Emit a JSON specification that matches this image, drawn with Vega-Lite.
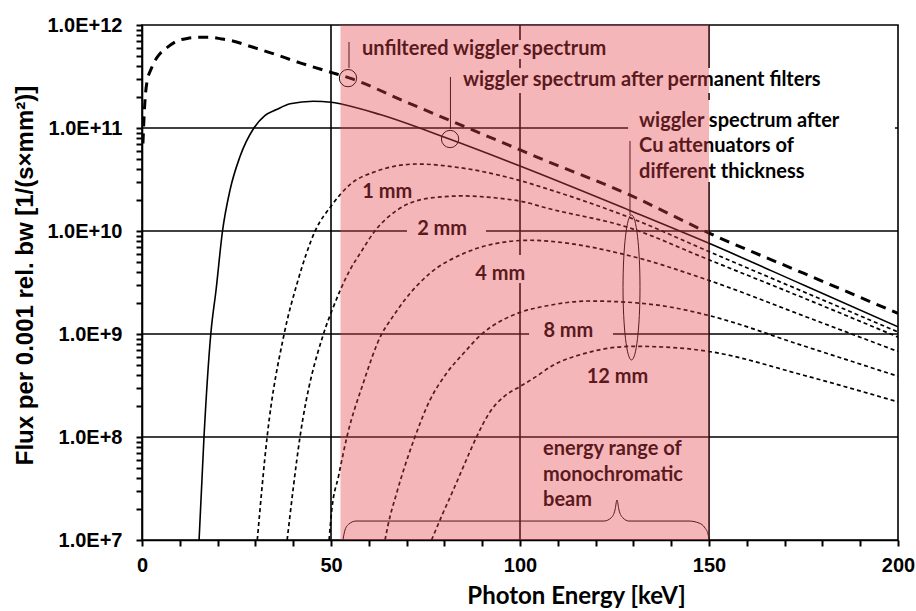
{
  "$schema": "https://vega.github.io/schema/vega-lite/v6.json",
  "width": 756,
  "height": 515,
  "autosize": {"type": "none"},
  "padding": {"left": 142, "top": 25, "right": 18, "bottom": 71},
  "background": "white",
  "config": {
    "view": {"stroke": "black", "strokeWidth": 1.6}
  },
  "datasets": {
    "vgrid": [{"keV": 50}, {"keV": 100}, {"keV": 150}],
    "hgrid": [{"flux": 1e8}, {"flux": 1e9}, {"flux": 1e10}, {"flux": 1e11}],
    "curves": [
      {"series": "unfiltered", "keV": 0.25, "flux": 7.08e10},
      {"series": "unfiltered", "keV": 0.6, "flux": 1.41e11},
      {"series": "unfiltered", "keV": 1.2, "flux": 2.63e11},
      {"series": "unfiltered", "keV": 2.6, "flux": 3.89e11},
      {"series": "unfiltered", "keV": 4.5, "flux": 5.13e11},
      {"series": "unfiltered", "keV": 6.6, "flux": 6.03e11},
      {"series": "unfiltered", "keV": 9, "flux": 6.92e11},
      {"series": "unfiltered", "keV": 12, "flux": 7.41e11},
      {"series": "unfiltered", "keV": 15, "flux": 7.59e11},
      {"series": "unfiltered", "keV": 18, "flux": 7.59e11},
      {"series": "unfiltered", "keV": 21, "flux": 7.33e11},
      {"series": "unfiltered", "keV": 24, "flux": 7.0e11},
      {"series": "unfiltered", "keV": 28, "flux": 6.31e11},
      {"series": "unfiltered", "keV": 34, "flux": 5.37e11},
      {"series": "unfiltered", "keV": 42, "flux": 4.27e11},
      {"series": "unfiltered", "keV": 50, "flux": 3.47e11},
      {"series": "unfiltered", "keV": 55, "flux": 3.05e11},
      {"series": "unfiltered", "keV": 70, "flux": 1.78e11},
      {"series": "unfiltered", "keV": 94, "flux": 7.59e10},
      {"series": "unfiltered", "keV": 105, "flux": 5.13e10},
      {"series": "unfiltered", "keV": 129, "flux": 2.24e10},
      {"series": "unfiltered", "keV": 150, "flux": 9.55e9},
      {"series": "unfiltered", "keV": 175, "flux": 3.89e9},
      {"series": "unfiltered", "keV": 200, "flux": 1.585e9},

      {"series": "filters", "keV": 15.1, "flux": 1e7},
      {"series": "filters", "keV": 16.4, "flux": 1e8},
      {"series": "filters", "keV": 18.2, "flux": 1e9},
      {"series": "filters", "keV": 19.6, "flux": 2.69e9},
      {"series": "filters", "keV": 21.3, "flux": 1e10},
      {"series": "filters", "keV": 23.3, "flux": 2.51e10},
      {"series": "filters", "keV": 25.9, "flux": 5.25e10},
      {"series": "filters", "keV": 29.6, "flux": 1e11},
      {"series": "filters", "keV": 32.5, "flux": 1.32e11},
      {"series": "filters", "keV": 35.6, "flux": 1.51e11},
      {"series": "filters", "keV": 39.2, "flux": 1.72e11},
      {"series": "filters", "keV": 45.3, "flux": 1.82e11},
      {"series": "filters", "keV": 50, "flux": 1.78e11},
      {"series": "filters", "keV": 53, "flux": 1.70e11},
      {"series": "filters", "keV": 63, "flux": 1.35e11},
      {"series": "filters", "keV": 81.5, "flux": 7.76e10},
      {"series": "filters", "keV": 100, "flux": 4.27e10},
      {"series": "filters", "keV": 129, "flux": 1.585e10},
      {"series": "filters", "keV": 150, "flux": 7.59e9},
      {"series": "filters", "keV": 175, "flux": 2.99e9},
      {"series": "filters", "keV": 200, "flux": 1.175e9},

      {"series": "1 mm", "keV": 30.5, "flux": 1e7},
      {"series": "1 mm", "keV": 33.1, "flux": 1e8},
      {"series": "1 mm", "keV": 37.6, "flux": 1e9},
      {"series": "1 mm", "keV": 41.1, "flux": 3.16e9},
      {"series": "1 mm", "keV": 45.8, "flux": 1e10},
      {"series": "1 mm", "keV": 50.2, "flux": 1.78e10},
      {"series": "1 mm", "keV": 55, "flux": 2.82e10},
      {"series": "1 mm", "keV": 62, "flux": 3.80e10},
      {"series": "1 mm", "keV": 72.7, "flux": 4.47e10},
      {"series": "1 mm", "keV": 85, "flux": 4.07e10},
      {"series": "1 mm", "keV": 99, "flux": 3.16e10},
      {"series": "1 mm", "keV": 108, "flux": 2.51e10},
      {"series": "1 mm", "keV": 129, "flux": 1.35e10},
      {"series": "1 mm", "keV": 150, "flux": 6.31e9},
      {"series": "1 mm", "keV": 175, "flux": 2.57e9},
      {"series": "1 mm", "keV": 200, "flux": 1.047e9},

      {"series": "2 mm", "keV": 38.4, "flux": 1e7},
      {"series": "2 mm", "keV": 41.8, "flux": 1e8},
      {"series": "2 mm", "keV": 48, "flux": 1e9},
      {"series": "2 mm", "keV": 50.5, "flux": 1.78e9},
      {"series": "2 mm", "keV": 52.5, "flux": 2.69e9},
      {"series": "2 mm", "keV": 55, "flux": 4.17e9},
      {"series": "2 mm", "keV": 58, "flux": 6.31e9},
      {"series": "2 mm", "keV": 61.6, "flux": 1e10},
      {"series": "2 mm", "keV": 67.4, "flux": 1.585e10},
      {"series": "2 mm", "keV": 76.2, "flux": 2.09e10},
      {"series": "2 mm", "keV": 85, "flux": 2.19e10},
      {"series": "2 mm", "keV": 93.8, "flux": 2.09e10},
      {"series": "2 mm", "keV": 102.6, "flux": 1.86e10},
      {"series": "2 mm", "keV": 105.3, "flux": 1.74e10},
      {"series": "2 mm", "keV": 129, "flux": 1.072e10},
      {"series": "2 mm", "keV": 150, "flux": 5.25e9},
      {"series": "2 mm", "keV": 175, "flux": 2.24e9},
      {"series": "2 mm", "keV": 200, "flux": 9.33e8},

      {"series": "4 mm", "keV": 49.5, "flux": 1e7},
      {"series": "4 mm", "keV": 50.2, "flux": 1.95e7},
      {"series": "4 mm", "keV": 52, "flux": 4.17e7},
      {"series": "4 mm", "keV": 54.2, "flux": 1e8},
      {"series": "4 mm", "keV": 58.5, "flux": 3.31e8},
      {"series": "4 mm", "keV": 63.4, "flux": 1e9},
      {"series": "4 mm", "keV": 66, "flux": 1.41e9},
      {"series": "4 mm", "keV": 69.5, "flux": 2.14e9},
      {"series": "4 mm", "keV": 76.2, "flux": 3.89e9},
      {"series": "4 mm", "keV": 85, "flux": 6.03e9},
      {"series": "4 mm", "keV": 93.8, "flux": 7.59e9},
      {"series": "4 mm", "keV": 102.6, "flux": 8.13e9},
      {"series": "4 mm", "keV": 108, "flux": 7.94e9},
      {"series": "4 mm", "keV": 129, "flux": 5.75e9},
      {"series": "4 mm", "keV": 150, "flux": 3.31e9},
      {"series": "4 mm", "keV": 175, "flux": 1.5e9},
      {"series": "4 mm", "keV": 200, "flux": 6.76e8},

      {"series": "8 mm", "keV": 64.3, "flux": 1e7},
      {"series": "8 mm", "keV": 65, "flux": 1.35e7},
      {"series": "8 mm", "keV": 67.4, "flux": 2.88e7},
      {"series": "8 mm", "keV": 72.2, "flux": 1e8},
      {"series": "8 mm", "keV": 76.2, "flux": 2.29e8},
      {"series": "8 mm", "keV": 80.6, "flux": 4.17e8},
      {"series": "8 mm", "keV": 85, "flux": 6.46e8},
      {"series": "8 mm", "keV": 89.9, "flux": 1e9},
      {"series": "8 mm", "keV": 95.6, "flux": 1.38e9},
      {"series": "8 mm", "keV": 100, "flux": 1.62e9},
      {"series": "8 mm", "keV": 108, "flux": 1.905e9},
      {"series": "8 mm", "keV": 118, "flux": 2.09e9},
      {"series": "8 mm", "keV": 128, "flux": 2.04e9},
      {"series": "8 mm", "keV": 140, "flux": 1.82e9},
      {"series": "8 mm", "keV": 150, "flux": 1.51e9},
      {"series": "8 mm", "keV": 175, "flux": 7.67e8},
      {"series": "8 mm", "keV": 200, "flux": 3.89e8},

      {"series": "12 mm", "keV": 76.6, "flux": 1e7},
      {"series": "12 mm", "keV": 79.5, "flux": 1.78e7},
      {"series": "12 mm", "keV": 82.4, "flux": 3.09e7},
      {"series": "12 mm", "keV": 85, "flux": 5.13e7},
      {"series": "12 mm", "keV": 88.5, "flux": 1e8},
      {"series": "12 mm", "keV": 92, "flux": 1.74e8},
      {"series": "12 mm", "keV": 96, "flux": 2.51e8},
      {"series": "12 mm", "keV": 100, "flux": 3.09e8},
      {"series": "12 mm", "keV": 104.4, "flux": 3.89e8},
      {"series": "12 mm", "keV": 108, "flux": 4.79e8},
      {"series": "12 mm", "keV": 118, "flux": 6.61e8},
      {"series": "12 mm", "keV": 130, "flux": 7.59e8},
      {"series": "12 mm", "keV": 140, "flux": 7.41e8},
      {"series": "12 mm", "keV": 150, "flux": 6.76e8},
      {"series": "12 mm", "keV": 175, "flux": 3.98e8},
      {"series": "12 mm", "keV": 200, "flux": 2.19e8}
    ],
    "boxes": [
      {"x1": 57.5, "x2": 125, "y1": 7.14e11, "y2": 4.68e11},
      {"x1": 84.1, "x2": 196, "y1": 3.83e11, "y2": 2.19e11},
      {"x1": 128.6, "x2": 199.2, "y1": 1.87e11, "y2": 2.99e10},
      {"x1": 70.1, "x2": 91.0, "y1": 1.28e10, "y2": 8.18e9},
      {"x1": 93.4, "x2": 106.6, "y1": 5.85e9, "y2": 3.13e9},
      {"x1": 102.4, "x2": 124.6, "y1": 1.31e9, "y2": 8.75e8}
    ],
    "notes": [
      {"text": "unfiltered wiggler spectrum", "keV": 58.2, "flux": 5.89e11},
      {"text": "wiggler spectrum after permanent filters", "keV": 84.9, "flux": 2.92e11},
      {"text": "wiggler spectrum after", "keV": 131.5, "flux": 1.17e11},
      {"text": "Cu attenuators of", "keV": 131.5, "flux": 6.68e10},
      {"text": "different thickness", "keV": 131.5, "flux": 3.74e10},
      {"text": "energy range of", "keV": 106.1, "flux": 7.60e7},
      {"text": "monochromatic", "keV": 106.1, "flux": 4.28e7},
      {"text": "beam", "keV": 106.1, "flux": 2.44e7}
    ],
    "mmlabels": [
      {"text": "1 mm", "keV": 64.9, "flux": 2.40e10},
      {"text": "2 mm", "keV": 79.4, "flux": 1.04e10},
      {"text": "4 mm", "keV": 94.8, "flux": 3.83e9},
      {"text": "8 mm", "keV": 112.8, "flux": 1.08e9},
      {"text": "12 mm", "keV": 125.8, "flux": 3.79e8}
    ],
    "leaders": [
      {"keV": 54.76, "y1": 6.84e11, "y2": 3.83e11},
      {"keV": 81.6, "y1": 3.13e11, "y2": 9.77e10},
      {"keV": 129.1, "y1": 7.48e10, "y2": 1.43e10}
    ],
    "circles": [
      {"keV": 54.5, "flux": 3.05e11},
      {"keV": 81.5, "flux": 7.82e10}
    ],
    "ellipse": [
      {"keV": 129.5, "flux": 2.83e9}
    ],
    "brace": [
      {"o": 1, "keV": 53.17, "flux": 1.0e7},
      {"o": 2, "keV": 53.70, "flux": 1.25e7},
      {"o": 3, "keV": 54.76, "flux": 1.43e7},
      {"o": 4, "keV": 56.61, "flux": 1.528e7},
      {"o": 5, "keV": 122.22, "flux": 1.528e7},
      {"o": 6, "keV": 124.07, "flux": 1.637e7},
      {"o": 7, "keV": 125.13, "flux": 1.954e7},
      {"o": 8, "keV": 125.66, "flux": 2.443e7},
      {"o": 9, "keV": 126.19, "flux": 1.954e7},
      {"o": 10, "keV": 127.25, "flux": 1.637e7},
      {"o": 11, "keV": 128.84, "flux": 1.528e7},
      {"o": 12, "keV": 144.71, "flux": 1.528e7},
      {"o": 13, "keV": 147.35, "flux": 1.462e7},
      {"o": 14, "keV": 148.94, "flux": 1.309e7},
      {"o": 15, "keV": 149.74, "flux": 1.143e7},
      {"o": 16, "keV": 150.0, "flux": 1.0e7}
    ],
    "band": [
      {"x1": 52.5, "x2": 150, "y1": 1e7, "y2": 1e12}
    ]
  },
  "encoding": {
    "x": {
      "field": "keV", "type": "quantitative",
      "scale": {"domain": [0, 200], "nice": false, "zero": false},
      "axis": {
        "title": "Photon Energy [keV]",
        "titleFont": "Lato", "titleFontWeight": "bold", "titleFontSize": 24, "titleColor": "black",
        "titleX": 434, "titleY": 63, "titleBaseline": "alphabetic", "titleAlign": "center",
        "values": [0, 10, 20, 30, 40, 50, 60, 70, 80, 90, 100, 110, 120, 130, 140, 150, 160, 170, 180, 190, 200],
        "labelExpr": "datum.value % 50 == 0 ? datum.label : ''",
        "labelFont": "Liberation Sans", "labelFontWeight": "bold", "labelFontSize": 20, "labelColor": "black",
        "labelPadding": 9,
        "labelFlush": false,
        "labelOverlap": false,
        "ticks": true,
        "tickSize": 6,
        "tickWidth": 2,
        "tickColor": "black",
        "tickOpacity": 1,
        "domain": true,
        "domainColor": "black",
        "domainWidth": 1.6,
        "grid": false
      }
    },
    "y": {
      "field": "flux", "type": "quantitative",
      "scale": {"type": "log", "domain": [1e7, 1e12], "nice": false},
      "axis": {
        "title": "Flux per 0.001 rel. bw [1/(s×mm²)]",
        "titleFont": "Liberation Sans", "titleFontWeight": "bold", "titleFontSize": 24, "titleColor": "black",
        "titleX": -117, "titleY": 250, "titleAngle": -90, "titleBaseline": "middle", "titleAlign": "center",
        "values": [1e7, 2e7, 3e7, 4e7, 5e7, 6e7, 7e7, 8e7, 9e7, 1e8, 2e8, 3e8, 4e8, 5e8, 6e8, 7e8, 8e8, 9e8, 1e9, 2e9, 3e9, 4e9, 5e9, 6e9, 7e9, 8e9, 9e9, 1e10, 2e10, 3e10, 4e10, 5e10, 6e10, 7e10, 8e10, 9e10, 1e11, 2e11, 3e11, 4e11, 5e11, 6e11, 7e11, 8e11, 9e11, 1e12],
        "labelExpr": "abs(log(datum.value)/LN10 - round(log(datum.value)/LN10)) < 0.001 ? replace(format(datum.value, '.1e'), 'e', 'E') : ''",
        "labelFont": "Liberation Sans", "labelFontWeight": "bold", "labelFontSize": 20, "labelColor": "black",
        "labelPadding": 14,
        "labelOverlap": false,
        "labelBaseline": "middle",
        "ticks": true,
        "tickSize": 6,
        "tickWidth": 2,
        "tickColor": "black",
        "tickOpacity": 1,
        "domain": true,
        "domainColor": "black",
        "domainWidth": 1.6,
        "grid": false
      }
    }
  },
  "layer": [
    {
      "data": {"name": "vgrid"},
      "mark": {"type": "rule", "color": "black", "strokeWidth": 1.6},
      "encoding": {"y": {"value": 0}, "y2": {"value": 515}}
    },
    {
      "data": {"name": "hgrid"},
      "mark": {"type": "rule", "color": "black", "strokeWidth": 1.6},
      "encoding": {"x": {"value": 0}, "x2": {"value": 756}}
    },
    {
      "data": {"name": "boxes"},
      "mark": {"type": "rect", "fill": "white", "stroke": null},
      "encoding": {
        "x": {"field": "x1", "type": "quantitative"},
        "x2": {"field": "x2"},
        "y": {"field": "y1", "type": "quantitative"},
        "y2": {"field": "y2"}
      }
    },
    {
      "data": {"name": "curves"},
      "transform": [{"filter": {"field": "series", "equal": "unfiltered"}}],
      "mark": {"type": "line", "color": "black", "strokeWidth": 3, "strokeDash": [10, 7], "interpolate": "monotone", "clip": true}
    },
    {
      "data": {"name": "curves"},
      "transform": [{"filter": {"field": "series", "equal": "filters"}}],
      "mark": {"type": "line", "color": "black", "strokeWidth": 1.6, "interpolate": "monotone", "clip": true}
    },
    {
      "data": {"name": "curves"},
      "transform": [{"filter": {"field": "series", "oneOf": ["1 mm", "2 mm", "4 mm", "8 mm", "12 mm"]}}],
      "mark": {"type": "line", "color": "black", "strokeWidth": 1.7, "strokeDash": [4, 3], "interpolate": "monotone", "clip": true},
      "encoding": {"detail": {"field": "series", "type": "nominal"}}
    },
    {
      "data": {"name": "leaders"},
      "mark": {"type": "rule", "color": "black", "strokeWidth": 1},
      "encoding": {
        "y": {"field": "y1", "type": "quantitative"},
        "y2": {"field": "y2"}
      }
    },
    {
      "data": {"name": "circles"},
      "mark": {"type": "point", "shape": "circle", "size": 300, "filled": false, "stroke": "black", "strokeWidth": 1, "opacity": 1}
    },
    {
      "data": {"name": "ellipse"},
      "mark": {"type": "point", "shape": "M0,-1A0.117,1,0,1,1,0,1A0.117,1,0,1,1,0,-1Z", "size": 21025, "filled": false, "stroke": "black", "strokeWidth": 1, "opacity": 1}
    },
    {
      "data": {"name": "brace"},
      "mark": {"type": "line", "color": "black", "strokeWidth": 1, "interpolate": "monotone"},
      "encoding": {"order": {"field": "o", "type": "quantitative"}}
    },
    {
      "data": {"name": "notes"},
      "mark": {"type": "text", "align": "left", "baseline": "middle", "font": "Lato", "fontWeight": "bold", "fontSize": 20, "color": "black"},
      "encoding": {"text": {"field": "text", "type": "nominal"}}
    },
    {
      "data": {"name": "mmlabels"},
      "mark": {"type": "text", "align": "center", "baseline": "middle", "font": "Lato", "fontWeight": "bold", "fontSize": 20, "color": "black"},
      "encoding": {"text": {"field": "text", "type": "nominal"}}
    },
    {
      "data": {"name": "band"},
      "mark": {"type": "rect", "color": "#e6434d", "opacity": 0.39},
      "encoding": {
        "x": {"field": "x1", "type": "quantitative"},
        "x2": {"field": "x2"},
        "y": {"field": "y1", "type": "quantitative"},
        "y2": {"field": "y2"}
      }
    }
  ]
}
